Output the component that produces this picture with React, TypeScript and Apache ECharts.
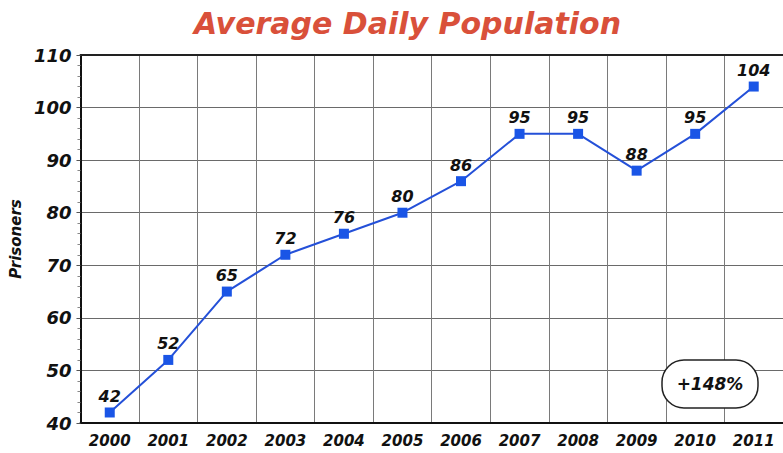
import React, { useEffect, useRef } from "react";
import * as echarts from "echarts";

const years = ["2000", "2001", "2002", "2003", "2004", "2005", "2006", "2007", "2008", "2009", "2010", "2011"];
const prisoners = [42, 52, 65, 72, 76, 80, 86, 95, 95, 88, 95, 104];
const titleText = "Average Daily Population";
const yAxisName = "Prisoners";
const changeText = "+148%";

const FONT = "'DejaVu Sans', 'Noto Sans', sans-serif";

export default function App() {
  const ref = useRef<HTMLDivElement>(null);
  useEffect(() => {
    if (!ref.current) return;
    const chart = echarts.init(ref.current, null, { renderer: "svg" });
    chart.setOption({
      animation: false,
      backgroundColor: "#ffffff",
      title: {
        text: titleText,
        left: 189,
        top: 3,
        textStyle: {
          color: "#d9503a",
          fontFamily: FONT,
          fontWeight: "bold",
          fontStyle: "italic",
          fontSize: 30,
        },
      },
      grid: { left: 79, top: 55, bottom: 30, width: 714 },
      xAxis: [
        {
          type: "category",
          data: years,
          boundaryGap: true,
          axisLine: { show: true, lineStyle: { color: "#111", width: 2 } },
          axisTick: { show: false },
          axisLabel: {
            color: "#111",
            fontFamily: FONT,
            fontWeight: "bold",
            fontStyle: "italic",
            fontSize: 15,
            margin: 10,
            interval: 0,
          },
          splitLine: { show: true, interval: 0, lineStyle: { color: "#7a7a7a", width: 1 } },
        },
        {
          type: "category",
          data: years,
          position: "top",
          boundaryGap: true,
          axisLine: { show: true, lineStyle: { color: "#222", width: 2 } },
          axisTick: { show: false },
          axisLabel: { show: false },
          splitLine: { show: false },
        },
      ],
      yAxis: {
        type: "value",
        min: 40,
        max: 110,
        interval: 10,
        name: yAxisName,
        nameLocation: "middle",
        nameGap: 57,
        nameTextStyle: {
          color: "#111",
          fontFamily: FONT,
          fontWeight: "bold",
          fontStyle: "italic",
          fontSize: 15,
        },
        axisLine: { show: true, lineStyle: { color: "#111", width: 2 } },
        axisTick: { show: true, length: 4, lineStyle: { color: "#555" } },
        minorTick: { show: true, splitNumber: 5, length: 3, lineStyle: { color: "#888" } },
        axisLabel: {
          color: "#111",
          fontFamily: FONT,
          fontWeight: "bold",
          fontStyle: "italic",
          fontSize: 18,
          margin: 9,
        },
        splitLine: { show: true, lineStyle: { color: "#6a6a6a", width: 1 } },
      },
      series: [
        {
          type: "line",
          data: prisoners,
          symbol: "rect",
          symbolSize: 10,
          lineStyle: { color: "#2450d8", width: 2 },
          itemStyle: { color: "#1a55e6" },
          label: {
            show: true,
            position: "top",
            distance: 3,
            color: "#111",
            fontFamily: FONT,
            fontWeight: "bold",
            fontStyle: "italic",
            fontSize: 16,
          },
        },
      ],
      graphic: [
        {
          type: "rect",
          shape: { x: 662, y: 360, width: 96, height: 48, r: 22 },
          style: { fill: "#ffffff", stroke: "#222", lineWidth: 1.5 },
          z: 100,
        },
        {
          type: "text",
          x: 710,
          y: 384,
          style: {
            text: changeText,
            fill: "#111",
            font: `italic bold 17px ${FONT}`,
            textAlign: "center",
            textVerticalAlign: "middle",
          },
          z: 101,
        },
      ],
    });
    return () => chart.dispose();
  }, []);
  return <div ref={ref} style={{ position: "fixed", left: 0, top: 0, width: 783, height: 453 }} />;
}
